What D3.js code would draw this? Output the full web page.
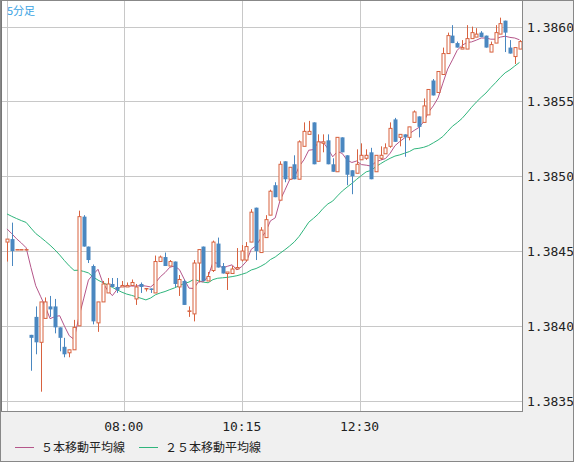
<!DOCTYPE html>
<html><head><meta charset="utf-8">
<script src="https://cdn.jsdelivr.net/npm/d3@7"></script>
<style>body{margin:0;background:#f0f0f0}svg{display:block}</style>
</head><body><svg id="c" width="574" height="462"></svg>
<script>
const opens=[1.38456,1.38458,1.38451,1.38451,1.38451,1.38394,1.38406,1.38389,1.38405,1.38413,1.38413,1.38399,1.38386,1.38382,1.38384,1.38400,1.38473,1.38453,1.38440,1.38402,1.38416,1.38422,1.38428,1.38426,1.38426,1.38426,1.38427,1.38418,1.38428,1.38425,1.38425,1.38422,1.38443,1.38446,1.38440,1.38443,1.38426,1.38430,1.38410,1.38408,1.38442,1.38453,1.38430,1.38437,1.38455,1.38440,1.38435,1.38435,1.38438,1.38444,1.38444,1.38456,1.38479,1.38449,1.38459,1.38474,1.38494,1.38484,1.38510,1.38498,1.38508,1.38498,1.38520,1.38528,1.38536,1.38510,1.38522,1.38524,1.38508,1.38503,1.38526,1.38514,1.38504,1.38502,1.38511,1.38512,1.38516,1.38503,1.38512,1.38515,1.38520,1.38538,1.38526,1.38528,1.38526,1.38536,1.38540,1.38536,1.38541,1.38564,1.38556,1.38568,1.38582,1.38594,1.38589,1.38585,1.38585,1.38592,1.38593,1.38596,1.38594,1.38583,1.38589,1.38595,1.38604,1.38586,1.38580,1.38585];
const highs=[1.38458,1.38469,1.38451,1.38451,1.38451,1.38394,1.38413,1.38416,1.38419,1.38420,1.38418,1.38399,1.38392,1.38384,1.38404,1.38477,1.38474,1.38453,1.38441,1.38416,1.38430,1.38432,1.38432,1.38432,1.38430,1.38429,1.38431,1.38428,1.38429,1.38425,1.38425,1.38447,1.38447,1.38449,1.38444,1.38443,1.38434,1.38431,1.38413,1.38444,1.38451,1.38453,1.38436,1.38457,1.38459,1.38442,1.38436,1.38440,1.38452,1.38454,1.38456,1.38478,1.38479,1.38466,1.38474,1.38491,1.38496,1.38510,1.38510,1.38506,1.38514,1.38524,1.38536,1.38537,1.38536,1.38528,1.38528,1.38528,1.38512,1.38526,1.38526,1.38514,1.38504,1.38518,1.38522,1.38518,1.38519,1.38514,1.38520,1.38522,1.38536,1.38539,1.38528,1.38528,1.38533,1.38544,1.38540,1.38552,1.38558,1.38565,1.38570,1.38586,1.38596,1.38601,1.38590,1.38591,1.38601,1.38600,1.38599,1.38597,1.38594,1.38590,1.38601,1.38606,1.38604,1.38591,1.38586,1.38591];
const lows=[1.38443,1.38440,1.38451,1.38451,1.38451,1.38370,1.38381,1.38356,1.38405,1.38406,1.38395,1.38383,1.38379,1.38379,1.38384,1.38400,1.38453,1.38442,1.38401,1.38396,1.38416,1.38422,1.38426,1.38422,1.38426,1.38426,1.38427,1.38414,1.38422,1.38423,1.38422,1.38422,1.38443,1.38440,1.38440,1.38426,1.38420,1.38414,1.38406,1.38403,1.38429,1.38430,1.38430,1.38436,1.38439,1.38435,1.38424,1.38435,1.38438,1.38443,1.38443,1.38456,1.38444,1.38449,1.38459,1.38474,1.38486,1.38484,1.38496,1.38498,1.38498,1.38498,1.38520,1.38528,1.38508,1.38510,1.38516,1.38508,1.38503,1.38503,1.38516,1.38494,1.38488,1.38502,1.38511,1.38511,1.38498,1.38503,1.38511,1.38515,1.38519,1.38523,1.38520,1.38513,1.38524,1.38536,1.38526,1.38536,1.38541,1.38554,1.38556,1.38568,1.38582,1.38589,1.38586,1.38585,1.38585,1.38592,1.38593,1.38593,1.38586,1.38583,1.38589,1.38595,1.38583,1.38582,1.38575,1.38585];
const closes=[1.38458,1.38450,1.38451,1.38451,1.38451,1.38392,1.38389,1.38416,1.38416,1.38411,1.38399,1.38392,1.38381,1.38384,1.38399,1.38473,1.38453,1.38444,1.38403,1.38416,1.38428,1.38428,1.38426,1.38424,1.38427,1.38427,1.38429,1.38426,1.38426,1.38425,1.38424,1.38443,1.38446,1.38440,1.38443,1.38428,1.38431,1.38414,1.38410,1.38442,1.38451,1.38430,1.38433,1.38456,1.38439,1.38435,1.38436,1.38438,1.38439,1.38450,1.38453,1.38476,1.38450,1.38464,1.38471,1.38490,1.38486,1.38508,1.38498,1.38506,1.38498,1.38523,1.38530,1.38530,1.38508,1.38523,1.38523,1.38508,1.38503,1.38526,1.38516,1.38501,1.38500,1.38508,1.38514,1.38514,1.38498,1.38514,1.38514,1.38519,1.38532,1.38523,1.38528,1.38526,1.38533,1.38543,1.38533,1.38547,1.38558,1.38554,1.38570,1.38582,1.38594,1.38589,1.38586,1.38586,1.38592,1.38596,1.38595,1.38593,1.38586,1.38588,1.38596,1.38602,1.38596,1.38582,1.38586,1.38590];
const priorCloses=[1.38490,1.38488,1.38485,1.38482,1.38486,1.38480,1.38478,1.38482,1.38479,1.38475,1.38478,1.38476,1.38472,1.38474,1.38470,1.38473,1.38469,1.38471,1.38468,1.38470,1.38466,1.38468,1.38465,1.38467];
const yTicks=[1.3835,1.3840,1.3845,1.3850,1.3855,1.3860];
const xTickPos=[0,24.4,49,73.6];
const xTickLabels=["","08:00","10:15","12:30"];
const legendLabels=["５本移動平均線","２５本移動平均線"];

const svg=d3.select("#c");
const W=522,H=411;
const x=d3.scaleLinear().domain([0,107]).range([7,519.5]);
const y=d3.scaleLinear().domain([1.383431,1.386178]).range([H,0]);
svg.append("rect").attr("x",0).attr("y",0).attr("width",W).attr("height",H).attr("fill","#fff");
const g=svg.append("g");
yTicks.forEach(t=>g.append("line").attr("x1",0).attr("x2",W).attr("y1",Math.round(y(t))+0.5).attr("y2",Math.round(y(t))+0.5).attr("stroke","#c8c8c8"));
xTickPos.forEach(t=>g.append("line").attr("y1",0).attr("y2",H).attr("x1",Math.round(x(t))+0.5).attr("x2",Math.round(x(t))+0.5).attr("stroke","#c8c8c8"));
const all=priorCloses.concat(closes),P=priorCloses.length;
function ma(n){return closes.map((c,i)=>d3.mean(all.slice(P+i-n+1,P+i+1)));}
const line=d3.line().x((d,i)=>x(i)).y(d=>y(d));
g.append("path").attr("d",line(ma(25))).attr("fill","none").attr("stroke","#2fb57c").attr("stroke-width",1);
g.append("path").attr("d",line(ma(5))).attr("fill","none").attr("stroke","#b5568a").attr("stroke-width",1);
const up="#d8623f",dn="#4a87c0";
closes.forEach((c,i)=>{
 const o=opens[i],isUp=c>=o,cx=Math.round(x(i))+0.5,col=isUp?up:dn;
 const top=y(Math.max(o,c)),bot=y(Math.min(o,c));
 g.append("line").attr("x1",cx).attr("x2",cx).attr("y1",y(highs[i])).attr("y2",y(lows[i])).attr("stroke",col);
 if(isUp) g.append("rect").attr("x",cx-1.5).attr("y",top).attr("width",3).attr("height",Math.max(bot-top,0.5)).attr("fill","#fff").attr("stroke",col);
 else g.append("rect").attr("x",cx-2).attr("y",top).attr("width",4).attr("height",Math.max(bot-top,1)).attr("fill",col);
});
svg.append("rect").attr("x",0.5).attr("y",-1).attr("width",W).attr("height",H+1.5).attr("fill","none").attr("stroke","#888");
svg.append("line").attr("x1",1).attr("x2",1).attr("y1",0).attr("y2",H).attr("stroke","#777").attr("stroke-width",2);
svg.append("text").attr("x",7).attr("y",15).attr("fill","#3aa3e3").attr("font-family","Noto Sans CJK JP").attr("font-size",11).text("5分足");
yTicks.forEach(t=>svg.append("text").attr("x",527).attr("y",y(t)+5).attr("font-family","DejaVu Sans Mono").attr("font-size",13).attr("fill","#222").text(t.toFixed(4)));
xTickPos.forEach((t,i)=>svg.append("text").attr("x",x(t)).attr("y",431).attr("text-anchor","middle").attr("font-family","DejaVu Sans Mono").attr("font-size",13).attr("fill","#222").text(xTickLabels[i]));
const lc=["#b5568a","#2fb57c"],lx=[15,139];
legendLabels.forEach((l,i)=>{
 svg.append("line").attr("x1",lx[i]).attr("x2",lx[i]+19).attr("y1",447.5).attr("y2",447.5).attr("stroke",lc[i]);
 svg.append("text").attr("x",lx[i]+26).attr("y",452).attr("font-family","Noto Sans CJK JP").attr("font-size",12).attr("fill","#222").text(l);
});
svg.append("rect").attr("x",0.5).attr("y",0.5).attr("width",573).attr("height",461).attr("fill","none").attr("stroke","#888");
</script></body></html>
